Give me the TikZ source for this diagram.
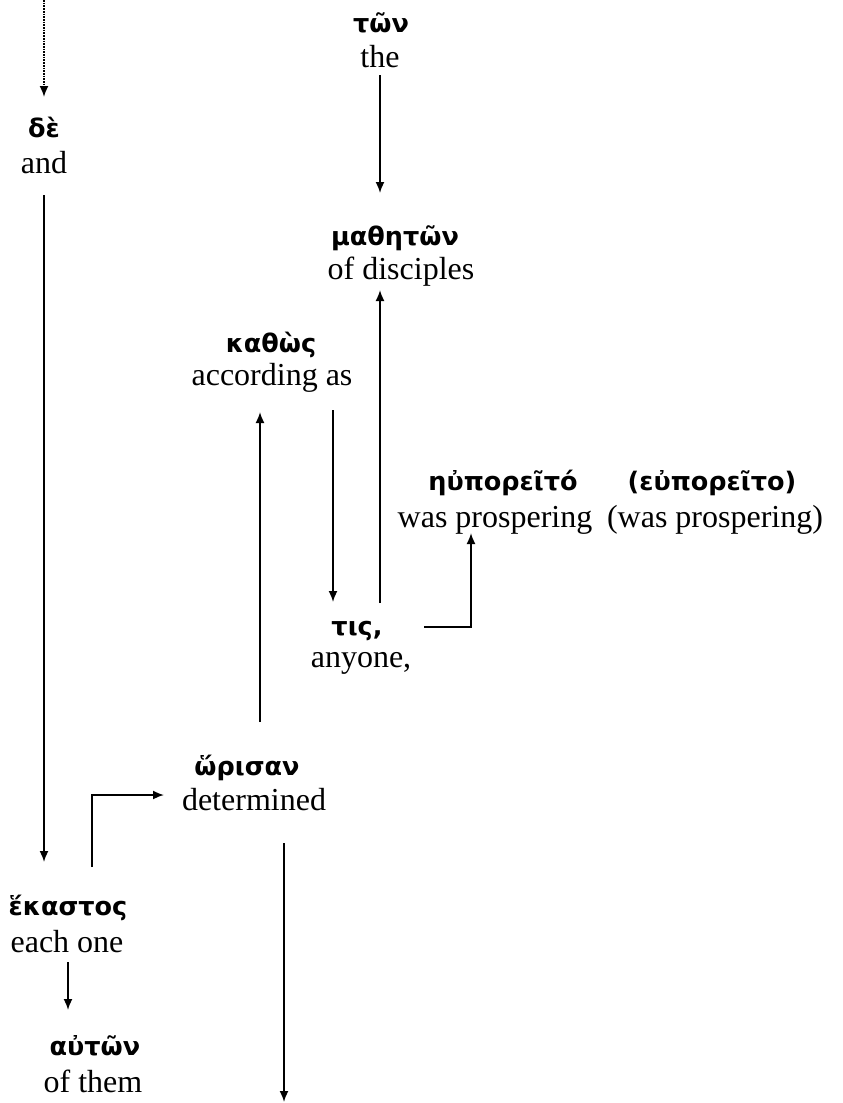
\documentclass[tikz,border=0pt]{standalone}
\usepackage{fontspec}
\setmainfont{Liberation Serif}
\newfontfamily\grk{DejaVu Sans}
\usetikzlibrary{arrows.meta}
\tikzset{
  gk/.style={anchor=base, inner sep=0pt, font=\grk\bfseries\fontsize{25.5}{30}\selectfont},
  en/.style={anchor=base, inner sep=0pt, font=\fontsize{32}{37}\selectfont},
  arr/.style={line width=1.7pt, -{Latex[length=11pt,width=9pt]}},
  ln/.style={line width=1.7pt}
}
\begin{document}
\begin{tikzpicture}[x=1pt,y=-1pt]
\useasboundingbox (0,0) rectangle (843,1103);
% words
\node[gk] (g-ton) at (381,32) {τῶν};
\node[en] (e-the) at (380,67) {the};
\node[gk] (g-de) at (44,137) {δὲ};
\node[en] (e-and) at (44,173) {and};
\node[gk] (g-math) at (395,245) {μαθητῶν};
\node[en] (e-disc) at (401,279) {of disciples};
\node[gk] (g-kath) at (271,352) {καθὼς};
\node[en] (e-acc) at (272,385) {according as};
\node[gk] (g-eup) at (503,490) {ηὐπορεῖτό};
\node[en] (e-prosp) at (495,527) {was prospering};
\node[gk] (g-eup2) at (712,490) {(εὐπορεῖτο)};
\node[en] (e-prosp2) at (715,527) {(was prospering)};
\node[gk] (g-tis) at (357,635) {τις,};
\node[en] (e-any) at (361,667) {anyone,};
\node[gk] (g-hor) at (247,775) {ὥρισαν};
\node[en] (e-det) at (254,810) {determined};
\node[gk] (g-hek) at (68,915) {ἕκαστος};
\node[en] (e-each) at (67,952) {each one};
\node[gk] (g-aut) at (95,1055) {αὐτῶν};
\node[en] (e-them) at (93,1092) {of them};
% connector ends
\coordinate (top) at (44,0);
\coordinate (de-in) at (44,97);
\coordinate (and-out) at (44,195);
\coordinate (hek-in) at (44,862);
\coordinate (the-out) at (380,75);
\coordinate (math-in) at (380,193);
\coordinate (tis-up) at (380,603);
\coordinate (math-in2) at (380,290);
\coordinate (acc-out) at (333,410);
\coordinate (tis-in) at (333,602);
\coordinate (hor-up) at (260,722);
\coordinate (kath-in) at (260,412);
\coordinate (tis-right) at (424,627);
\coordinate (eup-in) at (471,533);
\coordinate (hek-up) at (92,867);
\coordinate (hor-in) at (164,795);
\coordinate (det-out) at (284,843);
\coordinate (bottom) at (284,1102);
\coordinate (each-out) at (68,962);
\coordinate (aut-in) at (68,1010);
% connectors
\draw[arr, densely dotted] (top) -- (de-in);
\draw[arr] (and-out) -- (hek-in);
\draw[arr] (the-out) -- (math-in);
\draw[arr] (tis-up) -- (math-in2);
\draw[arr] (acc-out) -- (tis-in);
\draw[arr] (hor-up) -- (kath-in);
\draw[arr] (tis-right) -| (eup-in);
\draw[arr] (hek-up) |- (hor-in);
\draw[arr] (det-out) -- (bottom);
\draw[arr] (each-out) -- (aut-in);
\end{tikzpicture}
\end{document}
